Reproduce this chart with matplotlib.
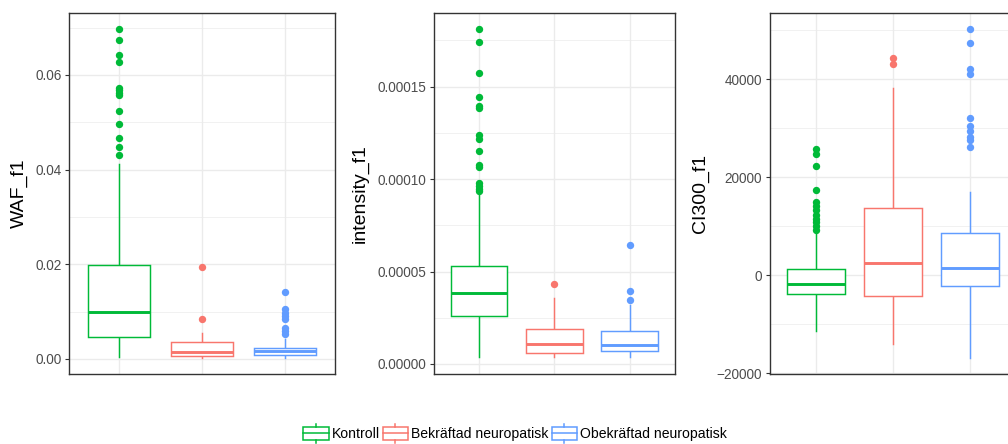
import matplotlib
matplotlib.use("Agg")
import matplotlib.pyplot as plt
from matplotlib.patches import Rectangle
from matplotlib.lines import Line2D
from matplotlib.legend_handler import HandlerBase
from matplotlib.ticker import FixedLocator, FixedFormatter

plt.rcParams['font.family'] = ['Liberation Sans', 'DejaVu Sans']

# ---------------- data ----------------
groups = ["Kontroll", "Bekräftad neuropatisk", "Obekräftad neuropatisk"]
colors = ["#00BA38", "#F8766D", "#619CFF"]

# WAF_f1
waf_q1 = [0.00472, 0.00063, 0.00077]
waf_med = [0.00986, 0.00141, 0.00160]
waf_q3 = [0.01986, 0.00366, 0.00225]
waf_lo = [0.0005, 0.0003, 0.0003]
waf_hi = [0.0412, 0.00556, 0.00415]
waf_out = [
    [0.0697, 0.0674, 0.0642, 0.0627, 0.0573, 0.0568, 0.0561, 0.0558,
     0.0524, 0.0496, 0.0466, 0.0447, 0.0430],
    [0.0195, 0.00845],
    [0.01423, 0.01049, 0.00979, 0.00908, 0.00838, 0.00648, 0.00592, 0.00528],
]

# intensity_f1
int_q1 = [2.61e-5, 0.58e-5, 0.685e-5]
int_med = [3.82e-5, 1.06e-5, 1.01e-5]
int_q3 = [5.30e-5, 1.875e-5, 1.785e-5]
int_lo = [0.40e-5, 0.36e-5, 0.36e-5]
int_hi = [9.23e-5, 3.55e-5, 3.20e-5]
int_out = [
    [18.1e-5, 17.42e-5, 15.72e-5, 14.44e-5, 13.95e-5, 13.83e-5, 12.39e-5,
     12.15e-5, 11.52e-5, 10.76e-5, 10.67e-5, 9.77e-5, 9.63e-5, 9.48e-5, 9.38e-5],
    [4.33e-5],
    [6.44e-5, 3.95e-5, 3.46e-5],
]

# CI300_f1
ci_q1 = [-3810, -4290, -2240]
ci_med = [-1700, 2590, 1500]
ci_q3 = [1360, 13810, 8570]
ci_lo = [-11360, -14080, -16870]
ci_hi = [8710, 38100, 17010]
ci_out = [
    [9180, 10000, 10880, 11560, 12240, 13400, 14150, 14970, 17350, 22240, 24630, 25650],
    [44220, 43060],
    [50140, 47420, 41970, 41020, 32110, 30480, 29390, 28230, 27550, 26120],
]

panels = [
    dict(label="WAF_f1", q1=waf_q1, med=waf_med, q3=waf_q3, lo=waf_lo, hi=waf_hi, out=waf_out,
         ylim=(-0.00311, 0.07316), major=[0.0, 0.02, 0.04, 0.06],
         ticklabels=["0.00", "0.02", "0.04", "0.06"], minor=[0.01, 0.03, 0.05, 0.07],
         rect=[69.3, 265.7], labx=19.7),
    dict(label="intensity_f1", q1=int_q1, med=int_med, q3=int_q3, lo=int_lo, hi=int_hi, out=int_out,
         ylim=(-5.25e-6, 1.900e-4), major=[0.0, 5e-5, 1e-4, 1.5e-4],
         ticklabels=["0.00000", "0.00005", "0.00010", "0.00015"],
         minor=[2.5e-5, 7.5e-5, 1.25e-4, 1.75e-4],
         rect=[433.7, 241.3], labx=360.0),
    dict(label="CI300_f1", q1=ci_q1, med=ci_med, q3=ci_q3, lo=ci_lo, hi=ci_hi, out=ci_out,
         ylim=(-20061, 53531), major=[-20000, 0, 20000, 40000],
         ticklabels=["\u221220000", "0", "20000", "40000"],
         minor=[-10000, 10000, 30000, 50000],
         rect=[770.0, 246.4], labx=700.0),
]

W, H = 1008, 444
fig = plt.figure(figsize=(W / 100, H / 100), dpi=100)

top_px, bot_px = 12.7, 373.7
grid_col = "#EBEBEB"
border_col = "#333333"

for p in panels:
    left, width = p["rect"]
    ax = fig.add_axes([left / W, 1 - bot_px / H, width / W, (bot_px - top_px) / H])
    stats = []
    for i in range(3):
        stats.append(dict(med=p["med"][i], q1=p["q1"][i], q3=p["q3"][i],
                          whislo=p["lo"][i], whishi=p["hi"][i], fliers=p["out"][i]))
    bp = ax.bxp(stats, positions=[1, 2, 3], widths=0.75, showcaps=False,
                patch_artist=True, manage_ticks=False)
    for i in range(3):
        c = colors[i]
        bp["boxes"][i].set(facecolor="white", edgecolor=c, linewidth=1.05, zorder=3)
        bp["medians"][i].set(color=c, linewidth=2.1, solid_capstyle="butt", zorder=4)
        for w in bp["whiskers"][2 * i:2 * i + 2]:
            w.set(color=c, linewidth=1.05, zorder=2)
        bp["fliers"][i].set(marker="o", markerfacecolor=c, markeredgecolor=c,
                            markeredgewidth=0, markersize=5.3, zorder=5)
    ax.set_xlim(0.4, 3.6)
    ax.set_ylim(*p["ylim"])
    ax.xaxis.set_major_locator(FixedLocator([1, 2, 3]))
    ax.tick_params(axis="x", length=0, labelbottom=False)
    ax.yaxis.set_major_locator(FixedLocator(p["major"]))
    ax.yaxis.set_major_formatter(FixedFormatter(p["ticklabels"]))
    ax.yaxis.set_minor_locator(FixedLocator(p["minor"]))
    ax.tick_params(axis="y", which="major", length=3.1, width=0.8, color=border_col,
                   labelcolor="#4D4D4D", labelsize=9.8, pad=2.5)
    ax.tick_params(axis="y", which="minor", length=0)
    ax.grid(True, which="major", color=grid_col, linewidth=1.0)
    ax.grid(True, which="minor", axis="y", color=grid_col, linewidth=0.5)
    ax.set_axisbelow(True)
    for s in ax.spines.values():
        s.set_color(border_col)
        s.set_linewidth(1.0)
    ax.set_ylabel(p["label"], fontsize=14, color="black", va="center")
    ax.yaxis.set_label_coords((p["labx"] - left) / width, 0.5)


class BoxKeyHandler(HandlerBase):
    def create_artists(self, legend, orig_handle, xdescent, ydescent, width, height,
                       fontsize, trans):
        c = orig_handle.get_edgecolor()
        x0, y0 = -xdescent, -ydescent
        rect = Rectangle((x0, y0 + height * 0.17), width, height * 0.66,
                         facecolor="white", edgecolor=c, linewidth=1.1, transform=trans)
        med = Line2D([x0, x0 + width], [y0 + height / 2] * 2, color=c, linewidth=1.1,
                     transform=trans)
        w1 = Line2D([x0 + width / 2] * 2, [y0, y0 + height * 0.17], color=c,
                    linewidth=1.1, transform=trans)
        w2 = Line2D([x0 + width / 2] * 2, [y0 + height * 0.83, y0 + height], color=c,
                    linewidth=1.1, transform=trans)
        return [rect, med, w1, w2]


handles = [Rectangle((0, 0), 1, 1, facecolor="white", edgecolor=c) for c in colors]
fig.legend(handles, groups, handler_map={Rectangle: BoxKeyHandler()},
           loc="center", bbox_to_anchor=(0.511, 1 - 433.5 / H), ncol=3, frameon=False,
           fontsize=10.1, handlelength=1.8, handleheight=1.65, handletextpad=0.22,
           columnspacing=0.22, borderpad=0, borderaxespad=0)

fig.savefig("out.png", dpi=100)
